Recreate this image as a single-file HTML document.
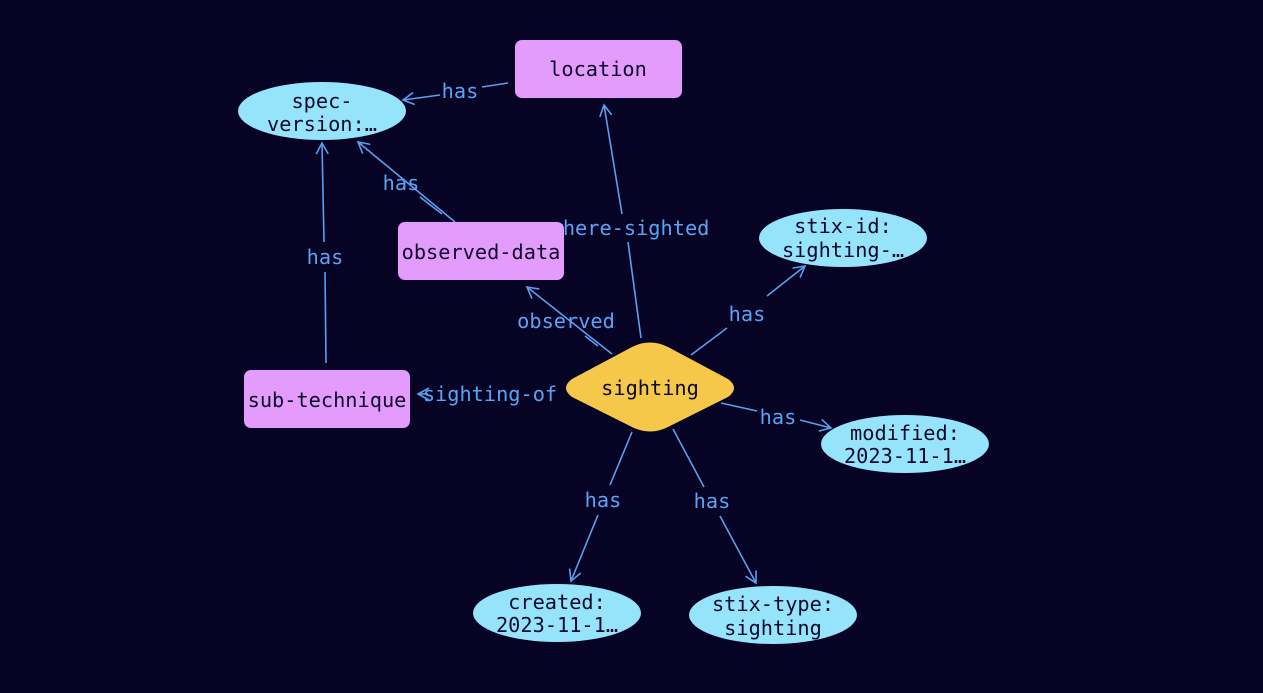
<!DOCTYPE html>
<html><head><meta charset="utf-8"><style>
html,body{margin:0;padding:0;background:#070324;}
svg{display:block}
text{font-family:"DejaVu Sans Mono","Liberation Mono",monospace;font-size:20.3px;text-anchor:middle;dominant-baseline:central}
.e{stroke:#5a9ff0;stroke-width:1.6;fill:none}
.l{fill:#5aa4f5}
.n{fill:#0c0a2a}
</style></head><body>
<svg width="1263" height="693" viewBox="0 0 1263 693">
<rect width="1263" height="693" fill="#070324"/>
<defs><marker id="a" markerWidth="14" markerHeight="14" refX="12" refY="7" orient="auto" markerUnits="userSpaceOnUse"><path d="M1,1 L12,7 L1,13" fill="none" stroke="#5a9ff0" stroke-width="1.6"/></marker></defs>
<!-- edges -->
<line class="e" x1="508" y1="83" x2="482" y2="87"/>
<line class="e" x1="440" y1="95" x2="403" y2="100" marker-end="url(#a)"/>
<line class="e" x1="641" y1="338" x2="628" y2="242"/>
<line class="e" x1="622" y1="214" x2="604" y2="105" marker-end="url(#a)"/>
<line class="e" x1="455" y1="222" x2="358" y2="142" marker-end="url(#a)"/>
<line class="e" x1="442" y1="214" x2="420" y2="197"/>
<line class="e" x1="326" y1="363" x2="325" y2="272"/>
<line class="e" x1="324" y1="242" x2="322" y2="143" marker-end="url(#a)"/>
<line class="e" x1="612" y1="354" x2="527" y2="287" marker-end="url(#a)"/>
<line class="e" x1="598" y1="346" x2="585" y2="336"/>
<line class="e" x1="428" y1="394" x2="418" y2="394" marker-end="url(#a)"/>
<line class="e" x1="691" y1="355" x2="727" y2="328"/>
<line class="e" x1="767" y1="296" x2="805" y2="266" marker-end="url(#a)"/>
<line class="e" x1="721" y1="403" x2="757" y2="411"/>
<line class="e" x1="800" y1="420" x2="831" y2="428" marker-end="url(#a)"/>
<line class="e" x1="632" y1="432" x2="610" y2="485"/>
<line class="e" x1="598" y1="515" x2="571" y2="581" marker-end="url(#a)"/>
<line class="e" x1="673" y1="429" x2="704" y2="487"/>
<line class="e" x1="720" y1="516" x2="756" y2="583" marker-end="url(#a)"/>
<!-- edge labels -->
<text class="l" x="460" y="91">has</text>
<text class="l" x="630" y="228">where-sighted</text>
<text class="l" x="401" y="183">has</text>
<text class="l" x="325" y="257">has</text>
<text class="l" x="566" y="321">observed</text>
<text class="l" x="490" y="394">sighting-of</text>
<text class="l" x="747" y="314">has</text>
<text class="l" x="778" y="417">has</text>
<text class="l" x="603" y="500">has</text>
<text class="l" x="712" y="501">has</text>
<!-- nodes -->
<rect x="515" y="40" width="167" height="58" rx="7" fill="#e49cfc"/>
<text class="n" x="598" y="69">location</text>
<ellipse cx="322" cy="111" rx="84" ry="29" fill="#96e4fc"/>
<text class="n" x="322" y="101">spec-</text>
<text class="n" x="322" y="124">version:…</text>
<rect x="398" y="222" width="166" height="58" rx="7" fill="#e49cfc"/>
<text class="n" x="481" y="252">observed-data</text>
<rect x="244" y="370" width="166" height="58" rx="7" fill="#e49cfc"/>
<text class="n" x="327" y="400">sub-technique</text>
<path d="M632,347 Q650,338 668,347 L728,379 Q740,388 728,397 L668,427 Q650,436 632,427 L572,397 Q560,388 572,379 Z" fill="#f6c84a"/>
<text class="n" x="650" y="388">sighting</text>
<ellipse cx="843" cy="238" rx="84" ry="29" fill="#96e4fc"/>
<text class="n" x="843" y="226">stix-id:</text>
<text class="n" x="843" y="250">sighting-…</text>
<ellipse cx="905" cy="444" rx="84" ry="29" fill="#96e4fc"/>
<text class="n" x="905" y="433">modified:</text>
<text class="n" x="905" y="456">2023-11-1…</text>
<ellipse cx="557" cy="613" rx="84" ry="29" fill="#96e4fc"/>
<text class="n" x="557" y="602">created:</text>
<text class="n" x="557" y="625">2023-11-1…</text>
<ellipse cx="773" cy="615" rx="84" ry="29" fill="#96e4fc"/>
<text class="n" x="773" y="604">stix-type:</text>
<text class="n" x="773" y="628">sighting</text>
</svg>
</body></html>
